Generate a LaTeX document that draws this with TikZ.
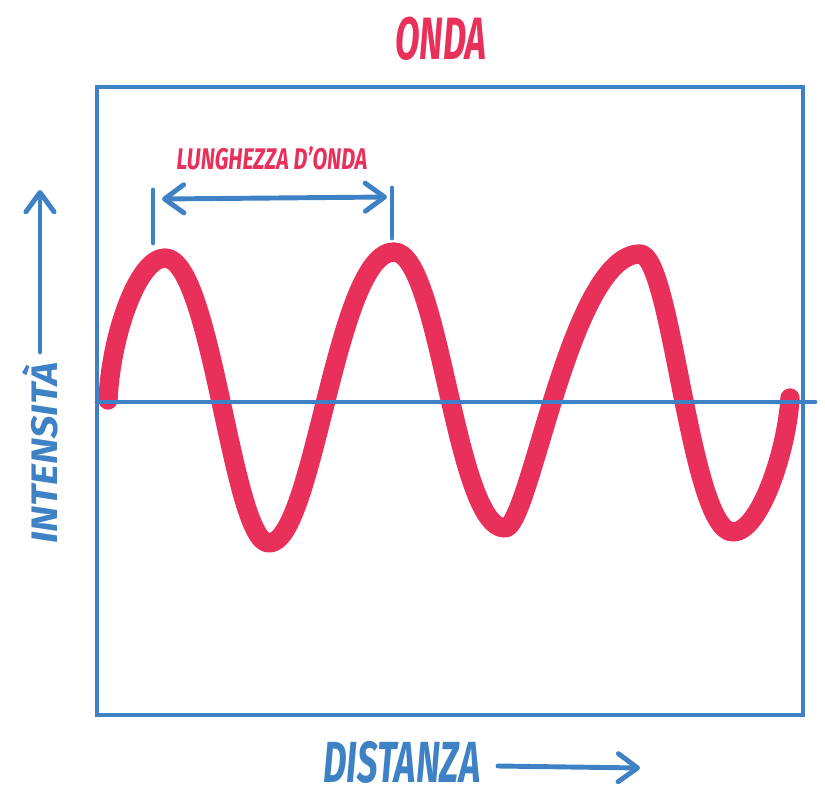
\documentclass[tikz,border=0pt]{standalone}
\usepackage{fontspec}
\setmainfont{Fira Sans}
\usetikzlibrary{arrows.meta}
\definecolor{wavered}{RGB}{232, 48, 90}
\definecolor{axisblue}{RGB}{62, 130, 197}
\newcommand{\handtext}[2]{\scalebox{#1}[1]{\bfseries\itshape #2}}

\begin{document}
\begin{tikzpicture}[x=0.02cm, y=-0.02cm,
    axis/.style={draw=axisblue, line width=2.8pt, line cap=round},
    arr/.style={axis, -{Straight Barb[length=11pt, width=16pt, round]}},
    darr/.style={axis, {Straight Barb[length=11pt, width=16pt, round]}-{Straight Barb[length=11pt, width=16pt, round]}},
    wave/.style={draw=wavered, line width=11pt, line cap=round, line join=round},
    lbl/.style={inner sep=0pt, text=#1}
]
\useasboundingbox (0,0) rectangle (825,804);

% the wave, under the axes
\draw[wave] (108,400) .. controls (111,335) and (138,258) .. (165,258)
    .. controls (212,258) and (232,543) .. (269,543)
    .. controls (314,543) and (336,252) .. (394,252)
    .. controls (440,252) and (455,528) .. (505,528)
    .. controls (530,528) and (570,254) .. (640,254)
    .. controls (672,254) and (690,532) .. (733,532)
    .. controls (760,532) and (787,450) .. (790,398);

% frame and zero line
\draw[axis, line cap=butt] (97,87) rectangle (803,715);
\coordinate (zl) at (97,402);
\coordinate (zr) at (815,402);
\draw[axis] (zl) -- (zr);

% labels
\node[lbl=wavered, font=\fontsize{34}{34}\selectfont] (title) at (441,39) {\handtext{0.6}{ONDA}};
\node[lbl=wavered, font=\fontsize{17}{17}\selectfont] (wl) at (272,158) {\handtext{0.72}{LUNGHEZZA D’ONDA}};
\node[lbl=axisblue, font=\fontsize{33}{33}\selectfont] (dist) at (402,762) {\handtext{0.63}{DISTANZA}};
\node[lbl=axisblue, font=\fontsize{21}{21}\selectfont, rotate=90] (int) at (40,453) {\handtext{1.08}{INTENSITÀ}};

% axis arrows
\coordinate (ia) at (40,352);
\coordinate (ib) at (40,190);
\draw[arr] (ia) -- (ib);
\coordinate (da) at (498,766);
\coordinate (db) at (640,768);
\draw[arr] (da) -- (db);

% wavelength
\coordinate (t1a) at (153,190);
\coordinate (t1b) at (153,243);
\coordinate (t2a) at (392,188);
\coordinate (t2b) at (392,238);
\draw[axis] (t1a) -- (t1b);
\draw[axis] (t2a) -- (t2b);
\coordinate (wa) at (162,199);
\coordinate (wb) at (387,197);
\draw[darr] (wa) -- (wb);

\end{tikzpicture}
\end{document}
